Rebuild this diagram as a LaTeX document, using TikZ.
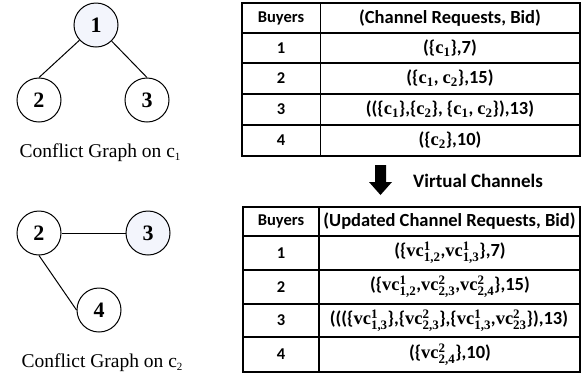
\documentclass[tikz,border=0pt]{standalone}
\usepackage{amsmath}
\usepackage{fontspec}
\setmainfont{Liberation Serif}
\newfontfamily\tabf{Carlito}
\newfontfamily\vcf{Liberation Serif}
\newcommand{\vcx}[2]{{\vcf\bfseries vc}$^{\text{\vcf\bfseries #1}}_{\text{\vcf\bfseries #2}}$}
\newcommand{\cx}[1]{{\vcf\bfseries c}$_{\text{\vcf\bfseries #1}}$}
\definecolor{nodefill}{HTML}{F3F5FC}
\tikzset{
  vert/.style={circle, draw, line width=1pt, minimum size=44pt, inner sep=0pt, font=\fontsize{22}{22}\selectfont\bfseries},
  edge/.style={line width=1pt},
  caption/.style={font=\fontsize{19.5}{20}\selectfont, anchor=base},
  cell/.style={font=\tabf\fontsize{16.5}{17}\selectfont\bfseries, inner sep=0pt},
  wcell/.style={font=\tabf\fontsize{18.5}{19}\selectfont\bfseries, inner sep=0pt},
  grid/.style={line width=1.6pt},
}
\begin{document}
\begin{tikzpicture}[x=1pt,y=-1pt]
\useasboundingbox (0,0) rectangle (582,376);
% Graph on c1
\node[vert, fill=nodefill] (a1) at (96,25) {1};
\node[vert] (a2) at (39,100) {2};
\node[vert] (a3) at (147,100) {3};
\draw[edge] (a1) -- (a2.north);
\draw[edge] (a1) -- (a3.north);
\node[caption] (cap1) at (100,157) {Conflict Graph on c{\fontsize{11}{11}\selectfont\raisebox{-3pt}{1}}};
% Graph on c2
\node[vert] (b2) at (39,233) {2};
\node[vert, fill=nodefill] (b3) at (148,233) {3};
\node[vert] (b4) at (99,310) {4};
\draw[edge] (b2) -- (b3);
\draw[edge] (b2.south) -- (b4.west);
\node[caption] (cap2) at (102,367) {Conflict Graph on c{\fontsize{11}{11}\selectfont\raisebox{-3pt}{2}}};
% Table 1
\draw[grid] (242,3) rectangle (580,156);
\draw[grid] (320.5,3) -- (320.5,156);
\foreach \y in {33,63,94,125} \draw[grid] (242,\y) -- (580,\y);
\node[cell] (t1h1) at (281,18) {Buyers};
\node[wcell] (t1h2) at (450,18) {(Channel Requests, Bid)};
\node[cell] (t1r1) at (281,48) {1};
\node[wcell] (t1v1) at (450,48) {(\{\cx{1}\},7)};
\node[cell] (t1r2) at (281,78) {2};
\node[wcell] (t1v2) at (450,78) {(\{\cx{1}, \cx{2}\},15)};
\node[cell] (t1r3) at (281,109.5) {3};
\node[wcell] (t1v3) at (450,109.5) {((\{\cx{1}\},\{\cx{2}\}, \{\cx{1}, \cx{2}\}),13)};
\node[cell] (t1r4) at (281,140.5) {4};
\node[wcell] (t1v4) at (450,140.5) {(\{\cx{2}\},10)};
% Arrow
\fill (375,165) -- (386,165) -- (386,182) -- (392,182) -- (380.5,195) -- (369,182) -- (375,182) -- cycle;
\node[wcell, font=\tabf\fontsize{19}{19}\selectfont\bfseries, anchor=base west] (vch) at (413,187) {Virtual Channels};
% Table 2
\draw[grid] (243,207) rectangle (580,372);
\draw[grid] (319,207) -- (319,372);
\foreach \y in {236,270,304,337} \draw[grid] (243,\y) -- (580,\y);
\node[cell] (t2h1) at (281,221.5) {Buyers};
\node[wcell] (t2h2) at (449.5,221.5) {(Updated Channel Requests, Bid)};
\node[cell] (t2r1) at (281,253) {1};
\node[wcell] (t2v1) at (450,253) {(\{\vcx{1}{1,2},\vcx{1}{1,3}\},7)};
\node[cell] (t2r2) at (281,287) {2};
\node[wcell] (t2v2) at (450,287) {(\{\vcx{1}{1,2},\vcx{2}{2,3},\vcx{2}{2,4}\},15)};
\node[cell] (t2r3) at (281,320.5) {3};
\node[wcell] (t2v3) at (449,320.5) {(((\{\vcx{1}{1,3}\},\{\vcx{2}{2,3}\},\{\vcx{1}{1,3},\vcx{2}{23}\}),13)};
\node[cell] (t2r4) at (281,354.5) {4};
\node[wcell] (t2v4) at (450,354.5) {(\{\vcx{2}{2,4}\},10)};
\end{tikzpicture}
\end{document}
